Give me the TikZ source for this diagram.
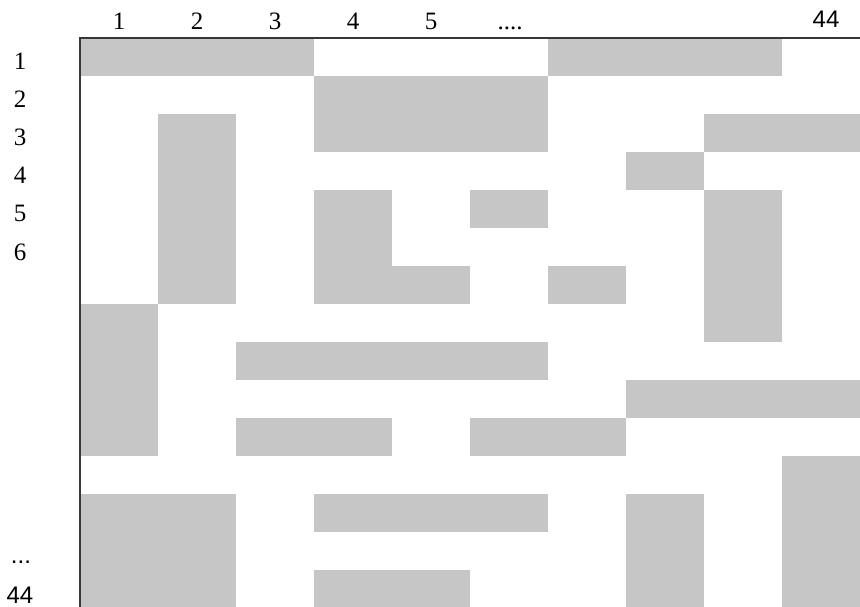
\documentclass[tikz,border=0pt]{standalone}
\usepackage{fontspec}
\setmainfont{Liberation Serif}
\newfontfamily\sansf{Liberation Sans}
\definecolor{cellgray}{RGB}{198,198,198}
\definecolor{framecol}{RGB}{55,55,55}
\begin{document}
\begin{tikzpicture}[x=1pt,y=-1pt,
  cell/.style={fill=cellgray},
  frameline/.style={draw=framecol,line width=2pt},
  lab/.style={inner sep=0pt,anchor=base,font=\fontsize{25}{28}\selectfont},
  labsans/.style={lab,font=\sansf\fontsize{24}{28}\selectfont}]
\useasboundingbox (0,0) rectangle (860,607);
\begin{scope}
\clip (0,0) rectangle (860,607);
\foreach \a/\b/\c/\d in {0/0/3/1, 6/0/9/1, 3/1/6/3, 1/2/2/7, 8/2/10/3, 7/3/8/4,
  3/4/4/7, 4/6/5/7, 5/4/6/5, 8/4/9/8, 6/6/7/7, 0/7/1/11, 2/8/6/9, 7/9/10/10,
  2/10/4/11, 5/10/7/11, 9/11/10/15, 0/12/2/15, 3/12/6/13, 7/12/8/15, 3/14/5/15}
  \fill[cell] ({80+78*\a},{38+38*\b}) rectangle ({80+78*\c},{38+38*\d});
\end{scope}
\coordinate (tl) at (80,38);
\coordinate (tr) at (860,38);
\coordinate (bl) at (80,607);
\draw[frameline] (tr) -- (tl) -- (bl);
% column labels
\foreach \i in {1,...,5}
  \node[lab] (c\i) at ({41+78*\i},30) {\i};
\node[lab] (cdots) at (510,30) {....};
\node[labsans] (c44) at (826,28) {44};
% row labels
\foreach \i in {1,...,6}
  \node[lab] (r\i) at (20,{70+38*(\i-1)}) {\i};
\node[labsans] (rdots) at (21,563) {...};
\node[labsans] (r44) at (20,603) {44};
\end{tikzpicture}
\end{document}
